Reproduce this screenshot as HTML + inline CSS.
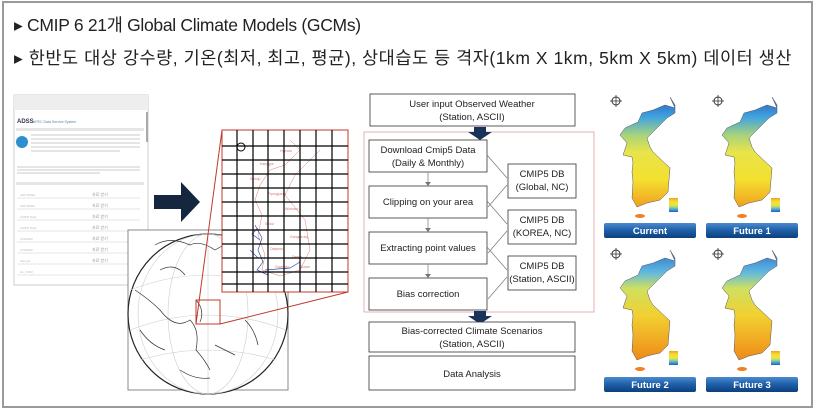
<!DOCTYPE html>
<html><head><meta charset="utf-8"><style>
html,body{margin:0;padding:0;background:#fff;}
body{width:817px;height:415px;overflow:hidden;position:relative;font-family:"Liberation Sans","Noto Sans CJK KR",sans-serif;}
.t{position:absolute;left:14px;font-size:17.5px;color:#222;white-space:nowrap;letter-spacing:-0.3px}
</style></head><body>
<svg width="817" height="415" style="position:absolute;left:0;top:0" font-family="Liberation Sans, sans-serif">
<defs>
<linearGradient id="kg" x1="0" y1="0" x2="0" y2="1">
<stop offset="0" stop-color="#2a5bb8"/><stop offset="0.18" stop-color="#3fa3e0"/><stop offset="0.35" stop-color="#a9d47a"/><stop offset="0.5" stop-color="#e8e44a"/><stop offset="0.75" stop-color="#f4e030"/><stop offset="1" stop-color="#f0a020"/>
</linearGradient>
<linearGradient id="kg2" x1="0" y1="0" x2="0" y2="1">
<stop offset="0" stop-color="#2f6fc8"/><stop offset="0.2" stop-color="#5fb8e0"/><stop offset="0.35" stop-color="#cfe060"/><stop offset="0.6" stop-color="#f2d030"/><stop offset="1" stop-color="#ee8a18"/>
</linearGradient>
<linearGradient id="btn" x1="0" y1="0" x2="0" y2="1">
<stop offset="0" stop-color="#4a8ad0"/><stop offset="0.5" stop-color="#1d5fa8"/><stop offset="1" stop-color="#0d3f7c"/>
</linearGradient>
<g id="korea">
<path d="M70,12 L75,23 L65,20 L53,25 L42,28 L38,37 L25,43 L20,50 L27,58 L23,70 L32,72 L33,78 L32,87 L33,97 L32,113 L37,122 L47,118 L60,115 L68,107 L70,83 L53,67 L50,62 L47,53 L57,43 L67,33 L75,28 L75,20 Z" stroke="#556" stroke-width="0.5"/>
<ellipse cx="40" cy="131" rx="5" ry="2" fill="#f08020"/>
<rect x="69" y="113" width="9" height="14" fill="url(#kg)" transform="rotate(180 73.5 120)"/>
<circle cx="16" cy="16" r="4" fill="none" stroke="#333" stroke-width="1"/>
<path d="M16,10 V22 M10,16 H22" stroke="#333" stroke-width="0.8"/>
</g>
</defs>
<rect x="3" y="2" width="809" height="405" fill="#fff" stroke="#9a9a9a" stroke-width="2"/>

<!-- screenshot -->
<rect x="14" y="95" width="134" height="190" fill="#fff" stroke="#ccc"/>
<rect x="14" y="95" width="134" height="15" fill="#eee"/>
<text x="17" y="123" font-size="6" font-weight="bold" fill="#335">ADSS</text>
<text x="33" y="123" font-size="3.5" fill="#58a">APEC Data Service System</text>
<rect x="16" y="128" width="128" height="3" fill="#e6e6e6"/>
<circle cx="22" cy="142" r="6" fill="#2c8fd0"/>
<g stroke="#bbb" stroke-width="0.8">
<path d="M31,135H140M31,139H140M31,143H140M31,147H140M31,151H120M17,167H140M17,170H140M17,173H100"/>
</g>
<rect x="16" y="182" width="128" height="3" fill="#e6e6e6"/>
<g stroke="#ccc" stroke-width="0.6"><path d="M17,198H140M17,209H140M17,220H140M17,231H140M17,242H140M17,253H140M17,264H140M17,275H140"/></g>
<g fill="#bbb" font-size="3"><text x="20" y="196">AR5 MMEs</text><text x="20" y="207">AR5 MMEs</text><text x="20" y="218">CMIP5 Daily</text><text x="20" y="229">CMIP5 Daily</text><text x="20" y="240">CORDEX</text><text x="20" y="251">CORDEX</text><text x="20" y="262">Sample</text><text x="20" y="273">GL_NOM</text></g>
<g fill="#999" font-size="4"><text x="92" y="196">자료 받기</text><text x="92" y="207">자료 받기</text><text x="92" y="218">자료 받기</text><text x="92" y="229">자료 받기</text><text x="92" y="240">자료 받기</text><text x="92" y="251">자료 받기</text><text x="92" y="262">자료 받기</text></g>
<rect x="146" y="112" width="2" height="30" fill="#aaa"/>

<!-- arrow -->
<path d="M154,195 H181 V182 L200,202 L181,222 V209 H154 Z" fill="#15273f"/>

<!-- globe -->
<rect x="128" y="230" width="160" height="160" fill="#fff" stroke="#888"/>
<circle cx="208" cy="314" r="80" fill="#fff" stroke="#222" stroke-width="1.2"/>
<g fill="none" stroke="#ccc" stroke-width="0.6">
<ellipse cx="208" cy="314" rx="40" ry="80"/><ellipse cx="208" cy="314" rx="70" ry="80"/>
<path d="M130,290 Q208,260 286,290 M130,330 Q208,300 286,330 M140,360 Q208,340 276,360 M208,234 V394"/>
</g>
<g fill="none" stroke="#333" stroke-width="0.7">
<path d="M155,245 Q170,236 190,245 Q200,240 215,250 L222,246 Q235,250 240,260 M135,290 Q150,300 160,310 Q175,330 190,320 Q200,330 196,350 Q205,360 210,370 M215,345 Q225,350 235,355 M245,320 Q255,330 258,345 M160,270 Q175,262 185,275 M140,330 Q150,345 165,350 M180,370 Q195,380 210,378 M196,300 Q205,310 200,322"/>
</g>
<rect x="196" y="300" width="24" height="24" fill="none" stroke="#c0392b" stroke-width="1"/>
<path d="M196,324 L222,130 M220,324 L348,292" stroke="#c0392b" stroke-width="1"/>

<!-- grid -->
<rect x="222" y="130" width="126" height="162" fill="#fff" stroke="#c0392b" stroke-width="1"/>
<g stroke="#c8453a" stroke-width="0.5" fill="none" opacity="0.7">
<path d="M290,140 L300,150 L285,165 L270,170 L260,185 L255,200 L262,215 L258,235 L265,255 L262,270 L280,276 L300,270 L310,250 L305,220 L285,195 L295,175 L310,160 L320,150"/>
</g>
<g fill="#d05050" font-size="3.5" opacity="0.8">
<text x="280" y="152">Hyesan</text><text x="260" y="165">Kanggye</text><text x="250" y="180">Sinuiju</text><text x="268" y="195">Pyongyang</text><text x="285" y="210">Wonsan</text><text x="265" y="225">Seoul</text><text x="290" y="238">Gangneung</text><text x="270" y="250">Daejeon</text><text x="292" y="258">Daegu</text><text x="275" y="268">Gwangju</text><text x="300" y="268">Busan</text>
</g>
<g stroke="#3a4fa8" stroke-width="0.7" fill="none">
<path d="M255,225 L262,238 L258,250 L263,262 L257,270 L268,275 M250,250 L258,258 M265,270 L290,268 L300,262 M258,228 L252,234 L260,240"/>
</g>
<g stroke="#000" stroke-width="1.2">
<path d="M237,130V292M253,130V292M268,130V292M284,130V292M300,130V292M316,130V292M332,130V292"/>
<path d="M222,146H348M222,160H348M222,174H348M222,188H348M222,202H348M222,216H348M222,230H348M222,244H348M222,258H348M222,272H348M222,284H348"/>
</g>
<circle cx="241" cy="147" r="4" fill="none" stroke="#000"/>

<!-- flowchart -->
<g fill="#fff" stroke="#333" stroke-width="0.8">
<rect x="370" y="94" width="205" height="32"/>
</g>
<rect x="364" y="132" width="230" height="180" fill="none" stroke="#e0a0a0" stroke-width="0.8"/>
<path d="M474,127 H486 V132 H492 L480,140 L468,132 H474 Z" fill="#1a3358"/>
<g fill="#fff" stroke="#333" stroke-width="0.8">
<rect x="369" y="140" width="118" height="32"/>
<rect x="369" y="186" width="118" height="32"/>
<rect x="369" y="232" width="118" height="32"/>
<rect x="369" y="278" width="118" height="32"/>
<rect x="508" y="164" width="68" height="34"/>
<rect x="508" y="210" width="68" height="34"/>
<rect x="508" y="256" width="68" height="34"/>
</g>
<path d="M474,311 H486 V316 H492 L480,324 L468,316 H474 Z" fill="#1a3358"/>
<g fill="#fff" stroke="#333" stroke-width="0.8">
<rect x="369" y="322" width="206" height="30"/>
<rect x="369" y="356" width="206" height="34"/>
</g>
<g stroke="#777" stroke-width="0.7" fill="none">
<path d="M428,172V185M428,218V231M428,264V277"/>
<path d="M487,155L507,178M507,185L488,207M487,201L507,224M507,231L488,253M487,247L507,270M507,277L488,299"/>
</g>
<g fill="#777">
<path d="M425,182L428,186L431,182Z M425,228L428,232L431,228Z M425,274L428,278L431,274Z"/>
</g>
<g font-size="9.5" fill="#222" text-anchor="middle" font-family="Liberation Sans, sans-serif">
<text x="472" y="107">User input Observed Weather</text><text x="472" y="120">(Station, ASCII)</text>
<text x="428" y="153">Download Cmip5 Data</text><text x="428" y="166">(Daily &amp; Monthly)</text>
<text x="428" y="205">Clipping on your area</text>
<text x="428" y="251">Extracting point values</text>
<text x="428" y="297">Bias correction</text>
<text x="542" y="177">CMIP5 DB</text><text x="542" y="190">(Global, NC)</text>
<text x="542" y="223">CMIP5 DB</text><text x="542" y="236">(KOREA, NC)</text>
<text x="542" y="269">CMIP5 DB</text><text x="542" y="282">(Station, ASCII)</text>
<text x="472" y="334">Bias-corrected Climate Scenarios</text><text x="472" y="347">(Station, ASCII)</text>
<text x="472" y="377">Data Analysis</text>
</g>

<!-- maps -->
<use href="#korea" x="600" y="85" fill="url(#kg)"/>
<use href="#korea" x="702" y="85" fill="url(#kg)"/>
<use href="#korea" x="600" y="238" fill="url(#kg2)"/>
<use href="#korea" x="702" y="238" fill="url(#kg2)"/>
<g>
<rect x="604" y="223" width="92" height="15" rx="2" fill="url(#btn)"/>
<rect x="706" y="223" width="92" height="15" rx="2" fill="url(#btn)"/>
<rect x="604" y="377" width="92" height="15" rx="2" fill="url(#btn)"/>
<rect x="706" y="377" width="92" height="15" rx="2" fill="url(#btn)"/>
</g>
<g fill="#fff" font-size="9.5" font-weight="bold" text-anchor="middle">
<text x="650" y="234">Current</text><text x="752" y="234">Future 1</text>
<text x="650" y="388">Future 2</text><text x="752" y="388">Future 3</text>
</g>
</svg>
<div class="t" style="top:12px">▸ CMIP 6 21개 Global Climate Models (GCMs)</div>
<div class="t" style="top:45px;letter-spacing:0.55px">▸ 한반도 대상 강수량, 기온(최저, 최고, 평균), 상대습도 등 격자(1km X 1km, 5km X 5km) 데이터 생산</div>
</body></html>
